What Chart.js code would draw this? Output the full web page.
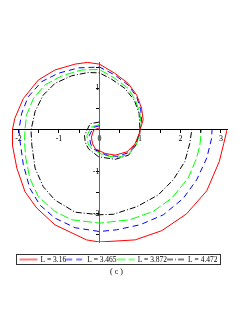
<!DOCTYPE html>
<html>
<head>
<meta charset="utf-8">
<script src="https://cdn.jsdelivr.net/npm/chart.js@4.4.0/dist/chart.umd.min.js"></script>
<style>
  html, body { margin: 0; padding: 0; background: #fff; }
  #wrap { position: relative; width: 245px; height: 327px; }
  #plot { position: absolute; left: 0; top: 0; }
  #caption { position: absolute; left: 0; width: 233px; top: 267px; text-align: center;
             font: 8px 'Liberation Serif', serif; color: #000; }
</style>
</head>
<body>
<div id="wrap">
  <canvas id="plot" width="245" height="273"></canvas>
  <div id="caption">( c )</div>
</div>
<script>
// curve labels
const seriesLabels = ['L = 3.16', 'L = 3.465', 'L = 3.872', 'L = 4.472'];

// points, inner end first
const redPath = [
  [0, 0.05], [-0.14, 0.0], [-0.2, -0.17], [-0.17, -0.33], [-0.1, -0.45], [0.14, -0.56], [0.39, -0.6],
  [0.68, -0.52], [0.88, -0.33], [0.98, -0.09], [1.0, 0], [1.08, 0.24], [1.04, 0.52], [0.92, 0.83],
  [0.71, 1.11], [0.38, 1.35], [0, 1.57], [-0.3, 1.61], [-0.6, 1.57], [-1.1, 1.43], [-1.51, 1.19],
  [-1.88, 0.75], [-2.09, 0.28], [-2.15, 0], [-2.15, -0.36], [-2.04, -0.91], [-1.84, -1.47],
  [-1.55, -1.86], [-1.1, -2.26], [-0.32, -2.62], [0, -2.67], [0.88, -2.62], [1.54, -2.4],
  [2.15, -2.0], [2.65, -1.45], [2.96, -0.75], [3.07, -0.32], [3.15, 0]
];
const bluePath = [
  [0, 0.1], [-0.15, 0.06], [-0.25, -0.13], [-0.22, -0.33], [-0.14, -0.45], [0.14, -0.59], [0.43, -0.63],
  [0.72, -0.54], [0.9, -0.33], [0.98, -0.09], [1.0, 0], [1.04, 0.2], [1.02, 0.48], [0.92, 0.79],
  [0.71, 1.07], [0.38, 1.31], [0, 1.5], [-0.52, 1.48], [-1.02, 1.35], [-1.43, 1.15], [-1.76, 0.79],
  [-1.92, 0.4], [-1.99, 0], [-1.96, -0.28], [-1.88, -0.83], [-1.72, -1.39], [-1.47, -1.79],
  [-1.1, -2.1], [-0.6, -2.33], [0, -2.42], [0.42, -2.38], [1.0, -2.26], [1.58, -2.02],
  [2.07, -1.63], [2.4, -1.19], [2.65, -0.67], [2.77, -0.2], [2.78, 0]
];
const greenPath = [
  [0, 0.13], [-0.2, 0.07], [-0.31, -0.13], [-0.28, -0.33], [-0.19, -0.45], [0.1, -0.6], [0.43, -0.66],
  [0.72, -0.58], [0.91, -0.35], [0.99, -0.1], [1.0, 0], [1.02, 0.12], [1.0, 0.4], [0.89, 0.71],
  [0.71, 0.99], [0.38, 1.23], [0, 1.44], [-0.44, 1.43], [-0.93, 1.29], [-1.35, 1.07], [-1.63, 0.75],
  [-1.8, 0.36], [-1.84, 0], [-1.85, -0.3], [-1.82, -0.67], [-1.72, -1.15], [-1.51, -1.59],
  [-1.1, -1.94], [-0.69, -2.14], [0, -2.22], [0.75, -2.14], [1.33, -1.94], [1.78, -1.63],
  [2.19, -1.15], [2.4, -0.67], [2.48, -0.36], [2.52, 0]
];
const blackPath = [
  [0, 0.19], [-0.23, 0.15], [-0.37, -0.13], [-0.35, -0.3], [-0.27, -0.45], [-0.02, -0.64], [0.39, -0.7],
  [0.72, -0.6], [0.9, -0.36], [0.98, -0.1], [1.0, 0], [0.98, 0.4], [0.86, 0.71], [0.63, 0.99],
  [0.3, 1.21], [0, 1.36], [-0.28, 1.37], [-0.69, 1.29], [-1.1, 1.11], [-1.39, 0.83], [-1.59, 0.44],
  [-1.69, 0], [-1.67, -0.36], [-1.59, -0.91], [-1.39, -1.35], [-1.1, -1.67], [-0.6, -1.96],
  [0, -2.02], [0.34, -2.01], [0.92, -1.83], [1.45, -1.55], [1.82, -1.19], [2.11, -0.75],
  [2.23, -0.32], [2.28, 0]
];

const paths = [redPath, bluePath, greenPath, blackPath];
const colors = ['#ff0000', '#0000ff', '#00ff00', '#000000'];
const dashes = [[], [6, 4], [9, 3], [6, 2, 1, 2]];

const serif = "'Liberation Serif', 'Times New Roman', serif";

// boxed one-row legend under the plot, like the original
const legendBox = { left: 16.5, top: 254.5, width: 204, height: 10 };

const boxedLegend = {
    id: 'boxedLegend',
    afterDraw(chart) {
        const ctx = chart.ctx;
        const sampleW = 18;
        const gap = 3;
        ctx.save();
        ctx.font = '7.5px ' + serif;
        const widths = seriesLabels.map(t => ctx.measureText(t).width);
        const used = widths.reduce((a, b) => a + b, 0) + seriesLabels.length * (sampleW + gap);
        const spacing = (legendBox.width - 6 - used) / (seriesLabels.length - 1);
        const cy = legendBox.top + legendBox.height / 2;
        let x = legendBox.left + 3;
        seriesLabels.forEach((text, i) => {
            ctx.save();
            ctx.globalAlpha = 0.5;
            ctx.strokeStyle = colors[i];
            ctx.lineWidth = 2;
            ctx.setLineDash(dashes[i]);
            ctx.beginPath();
            ctx.moveTo(x, cy);
            ctx.lineTo(x + sampleW, cy);
            ctx.stroke();
            ctx.restore();
            x += sampleW + gap;
            ctx.fillStyle = '#000';
            ctx.textBaseline = 'middle';
            ctx.fillText(text, x, cy + 0.5);
            x += widths[i] + spacing;
        });
        ctx.setLineDash([]);
        ctx.strokeStyle = '#333';
        ctx.lineWidth = 1;
        ctx.strokeRect(legendBox.left, legendBox.top, legendBox.width, legendBox.height);
        ctx.restore();
    }
};

new Chart(document.getElementById('plot'), {
    type: 'scatter',
    data: {
        datasets: paths.map((path, i) => ({
            label: seriesLabels[i],
            data: path.map(p => ({ x: p[0], y: p[1] })),
            showLine: true,
            borderColor: colors[i],
            backgroundColor: colors[i],
            borderDash: dashes[i],
            borderWidth: 1,
            pointRadius: 0,
            tension: 0,
        }))
    },
    options: {
        responsive: false,
        devicePixelRatio: 1,
        animation: false,
        events: [],
        layout: {
            padding: { left: 12, right: 18, top: 62, bottom: 31 }
        },
        scales: {
            x: {
                type: 'linear',
                min: -2.16,
                max: 3.15,
                position: { y: 0 },
                border: { display: true, color: '#000', width: 1 },
                grid: { display: true, drawOnChartArea: false, drawTicks: true, tickLength: 3, color: '#000' },
                ticks: {
                    stepSize: 0.5,
                    includeBounds: false,
                    autoSkip: false,
                    maxRotation: 0,
                    padding: 1,
                    color: '#000',
                    font: { family: serif, size: 8 },
                    callback: v => Number.isInteger(v) ? String(v) : ''
                }
            },
            y: {
                type: 'linear',
                min: -2.67,
                max: 1.62,
                position: { x: 0 },
                border: { display: true, color: '#666', width: 1 },
                grid: { display: true, drawOnChartArea: false, drawTicks: true, tickLength: 3, color: '#000' },
                ticks: {
                    stepSize: 0.5,
                    includeBounds: false,
                    autoSkip: false,
                    padding: 1,
                    color: '#000',
                    font: { family: serif, size: 8 },
                    callback: v => (Number.isInteger(v) && v !== 0) ? String(v) : ''
                }
            }
        },
        plugins: {
            tooltip: { enabled: false },
            legend: { display: false }
        }
    },
    plugins: [boxedLegend]
});
</script>
</body>
</html>
